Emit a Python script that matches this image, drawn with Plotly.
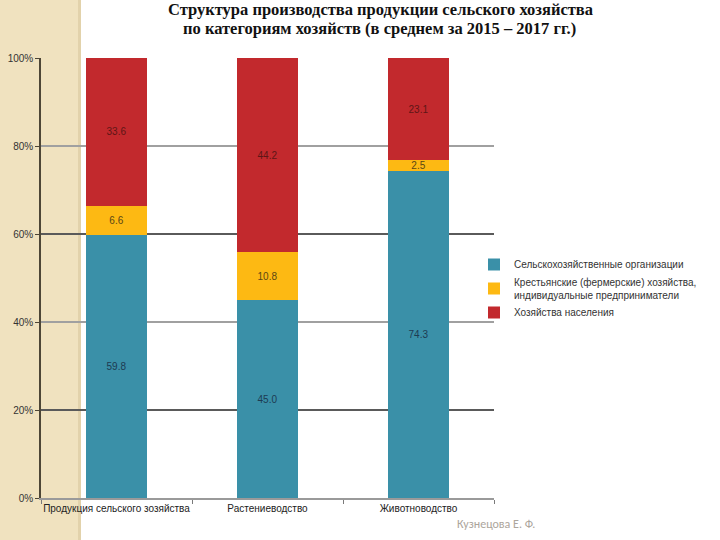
import plotly.graph_objects as go

categories = ["Продукция сельского зозяйства", "Растениеводство", "Животноводство"]
agri_orgs = [59.8, 45.0, 74.3]
farms = [6.6, 10.8, 2.5]
households = [33.6, 44.2, 23.1]
series_names = [
    "Сельскохозяйственные организации",
    "Крестьянские (фермерские) хозяйства,<br>индивидуальные предприниматели",
    "Хозяйства населения",
]
title_lines = [
    "Структура производства продукции сельского хозяйства",
    "по категориям хозяйств (в среднем за 2015 – 2017 гг.)",
]
footer_text = "Кузнецова Е. Ф."
y_ticks = [0, 20, 40, 60, 80, 100]
y_tick_labels = ["0%", "20%", "40%", "60%", "80%", "100%"]

colors = ["#3a90a8", "#fdb913", "#c2292d"]
text_colors = ["#1d3b52", "#5a4715", "#5e1616"]

fig = go.Figure()
for vals, name, c, tc in zip([agri_orgs, farms, households], series_names, colors, text_colors):
    fig.add_trace(go.Bar(
        x=categories, y=vals, name=name,
        marker=dict(color=c, line=dict(width=0)),
        texttemplate="%{y:.1f}", textposition="inside", insidetextanchor="middle",
        textangle=0,
        textfont=dict(family="Arial, Liberation Sans", size=10, color=tc),
        width=0.4,
    ))

L, R, T, B = 41, 226, 58, 42
W, H = 720, 540
pw, ph = W - L - R, H - T - B

def px_x(x):
    return (x - L) / pw

def px_y(y):
    return (H - B - y) / ph

title_font = dict(family="Liberation Serif, Times New Roman", size=16.5, color="#111111", weight=700)

fig.update_layout(
    width=W, height=H,
    margin=dict(l=L, r=R, t=T, b=B, pad=0, autoexpand=False),
    barmode="stack",
    paper_bgcolor="white",
    plot_bgcolor="rgba(0,0,0,0)",
    uniformtext=dict(minsize=10, mode="show"),
    showlegend=True,
    legend=dict(
        x=px_x(474), y=px_y(250), xanchor="left", yanchor="top",
        traceorder="normal",
        font=dict(family="Arial, Liberation Sans", size=10, color="#333333"),
        itemwidth=30, tracegroupgap=0, bgcolor="rgba(0,0,0,0)",
    ),
    xaxis=dict(
        showgrid=False, showline=True, linecolor="#9a9a9a", linewidth=1.5,
        ticks="outside", tickson="boundaries", ticklen=4, tickcolor="#7a7a7a",
        tickangle=0, automargin=False,
        tickfont=dict(family="Arial, Liberation Sans", size=10, color="#222222"),
    ),
    yaxis=dict(
        range=[0, 100], tickvals=y_ticks, ticktext=y_tick_labels,
        showgrid=True, gridcolor="#a0a0a0", gridwidth=1.5,
        showline=True, linecolor="#4d4636", linewidth=1.5,
        ticks="outside", ticklen=4, tickcolor="#4d4636", automargin=False,
        tickfont=dict(family="Arial, Liberation Sans", size=10, color="#333333"),
        zeroline=False,
    ),
    yaxis2=dict(
        range=[0, 100], overlaying="y", tick0=20, dtick=40,
        showgrid=True, gridcolor="#5a5a5a", gridwidth=1.5, automargin=False,
        showticklabels=False, ticks="", zeroline=False, showline=False,
    ),
    shapes=[
        dict(type="rect", xref="paper", yref="paper", layer="below",
             x0=px_x(0), x1=px_x(78), y0=px_y(H), y1=px_y(0),
             fillcolor="#f0e2bf", line=dict(width=0)),
        dict(type="rect", xref="paper", yref="paper", layer="below",
             x0=px_x(78), x1=px_x(81), y0=px_y(H), y1=px_y(0),
             fillcolor="#e2d2ab", line=dict(width=0)),
    ],
    annotations=[
        dict(text=title_lines[0], xref="paper", yref="paper",
             x=px_x(380), y=px_y(9), xanchor="center", yanchor="middle",
             showarrow=False, font=title_font),
        dict(text=title_lines[1], xref="paper", yref="paper",
             x=px_x(379), y=px_y(28), xanchor="center", yanchor="middle",
             showarrow=False, font=title_font),
        dict(text=footer_text, xref="paper", yref="paper",
             x=px_x(455), y=px_y(524), xanchor="left", yanchor="middle",
             showarrow=False,
             font=dict(family="Carlito, Liberation Sans, Arial", size=12, color="#aca59c")),
    ],
)

# invisible trace to activate yaxis2 grid
fig.add_trace(go.Scatter(x=[categories[0]], y=[0], yaxis="y2", mode="markers",
                         marker=dict(opacity=0), showlegend=False, hoverinfo="skip"))

fig.write_html("out.html", config={"displayModeBar": False},
               post_script="document.body.style.margin='0';")
